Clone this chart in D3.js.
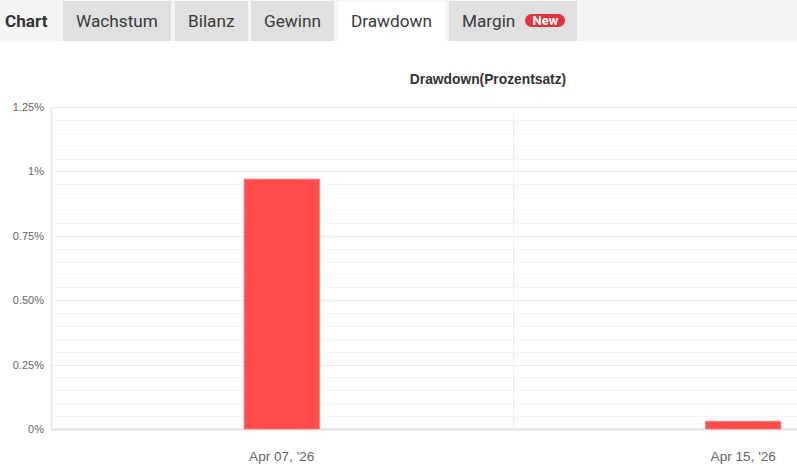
<!DOCTYPE html>
<html>
<head>
<meta charset="utf-8">
<script src="https://cdnjs.cloudflare.com/ajax/libs/d3/7.8.5/d3.min.js"></script>
<style>
  body { margin: 0; background: #fff; font-family: Roboto, "Liberation Sans", Arial, sans-serif; }
  .tabs { height: 41px; background: #f5f5f5; position: relative; }
  .tab { position: absolute; top: 1px; height: 40px; line-height: 40px; font-size: 17.2px; color: #3a3a3a; box-sizing: border-box; padding-left: 13px; white-space: nowrap; background: #e0e0e0; }
  .tab.label { background: none; font-weight: bold; color: #333; padding-left: 5px; }
  .tab.active { background: #fff; }
  .badge { display: inline-block; background: #e0313d; color: #fff; font-size: 13px; font-weight: bold; line-height: 13px; height: 13px; width: 40px; text-align: center; border-radius: 7px; vertical-align: 2px; margin-left: 10px; }
  #chart svg { display: block; }
</style>
</head>
<body>
<div class="tabs" id="tabs"></div>
<div id="chart"></div>
<script>
// --- data ---
const tabNames = ["Chart", "Wachstum", "Bilanz", "Gewinn", "Drawdown", "Margin"];
const tabLeft  = [0, 63, 175, 251, 338, 449];
const tabRight = [58, 171, 248, 334, 445, 577];
const dates = ["Apr 07, '26", "Apr 15, '26"];
const drawdown = [0.97, 0.03];
const yTicks = [0, 0.25, 0.5, 0.75, 1, 1.25];
const yTickLabels = ["0%", "0.25%", "0.50%", "0.75%", "1%", "1.25%"];

// --- tabs ---
const tabs = d3.select("#tabs");
tabNames.forEach((t, i) => {
  const div = tabs.append("div")
    .attr("class", "tab" + (i === 0 ? " label" : "") + (t === "Drawdown" ? " active" : ""))
    .style("left", tabLeft[i] + "px")
    .style("width", (tabRight[i] - tabLeft[i]) + "px")
    .text(t);
  if (t === "Margin") div.append("span").attr("class", "badge").text("New");
});

// --- svg ---
const width = 797, height = 434;
const top0 = 41;
const svg = d3.select("#chart").append("svg")
  .attr("width", width)
  .attr("height", height);

const g = svg.append("g").attr("transform", `translate(0,${-top0})`);

const plotLeft = 51, plotTop = 107, plotBottom = 429;

const y = d3.scaleLinear().domain([0, 1.25]).range([plotBottom, plotTop]);
const x = d3.scaleBand().domain(dates).range([plotLeft, 974]).padding(0);
const barW = x.step() * 0.163;

// minor grid
const minor = d3.range(0, 1.25 + 1e-9, 0.05).filter(v => Math.abs(v / 0.25 - Math.round(v / 0.25)) > 1e-6);
g.append("g").selectAll("line").data(minor).join("line")
  .attr("x1", plotLeft).attr("x2", width)
  .attr("y1", d => Math.round(y(d)) + 0.5).attr("y2", d => Math.round(y(d)) + 0.5)
  .attr("stroke", "#f4f4f4").attr("stroke-width", 1);

// major grid
g.append("g").selectAll("line").data(yTicks).join("line")
  .attr("x1", plotLeft).attr("x2", width)
  .attr("y1", d => Math.round(y(d)) + 0.5).attr("y2", d => Math.round(y(d)) + 0.5)
  .attr("stroke", d => d === 0 ? "#e2e2e2" : "#e8e8e8").attr("stroke-width", d => d === 0 ? 2 : 1);

// vertical grid between bands
g.append("g").selectAll("line").data(dates.slice(1)).join("line")
  .attr("x1", d => Math.round(x(d)) + 0.5).attr("x2", d => Math.round(x(d)) + 0.5)
  .attr("y1", plotTop).attr("y2", plotBottom)
  .attr("stroke", "#ececec");

// left axis line
g.append("line")
  .attr("x1", plotLeft + 0.5).attr("x2", plotLeft + 0.5)
  .attr("y1", plotTop).attr("y2", plotBottom)
  .attr("stroke", "#e8e8e8").attr("stroke-width", 2);

// y labels
g.append("g").selectAll("text").data(yTicks).join("text")
  .attr("x", 44).attr("y", d => y(d) + 4)
  .attr("text-anchor", "end")
  .attr("font-family", "Liberation Sans, Arial, sans-serif")
  .attr("font-size", 11).attr("fill", "#666")
  .text((d, i) => yTickLabels[i]);

// bars
g.append("g").selectAll("rect").data(drawdown).join("rect")
  .attr("x", (d, i) => x(dates[i]) + x.bandwidth() / 2 - barW / 2)
  .attr("width", barW)
  .attr("y", d => y(d))
  .attr("height", d => y(0) - y(d))
  .attr("fill", "#ff4c4c")
  .attr("stroke", "#ff7373").attr("stroke-width", 0.8);

// x labels
g.append("g").selectAll("text").data(dates).join("text")
  .attr("x", d => x(d) + x.bandwidth() / 2)
  .attr("y", 461)
  .attr("text-anchor", "middle")
  .attr("font-family", "Liberation Sans, Arial, sans-serif")
  .attr("font-size", 13.6).attr("fill", "#666")
  .text(d => d);

// title
g.append("text")
  .attr("x", 488).attr("y", 84)
  .attr("text-anchor", "middle")
  .attr("font-family", "Liberation Sans, Arial, sans-serif")
  .attr("font-size", 13.8).attr("font-weight", "bold").attr("fill", "#333")
  .text("Drawdown(Prozentsatz)");
</script>
</body>
</html>
